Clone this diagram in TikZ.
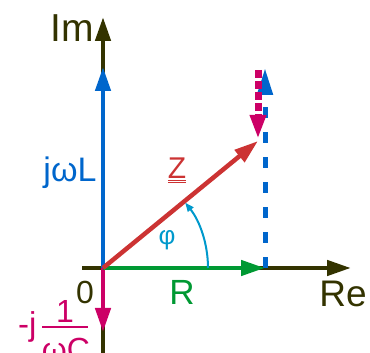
\documentclass[tikz,border=0pt]{standalone}
\usepackage{fontspec}
\setmainfont{Liberation Sans}
\usetikzlibrary{arrows.meta}
\definecolor{axiscol}{RGB}{51,51,0}
\definecolor{bluec}{RGB}{0,102,204}
\definecolor{redc}{RGB}{204,51,51}
\definecolor{magc}{RGB}{204,0,102}
\definecolor{greenc}{RGB}{0,153,51}
\definecolor{cyanc}{RGB}{0,153,204}
\begin{document}
\begin{tikzpicture}[x=1pt,y=1pt,
  bigtip/.style={-{Triangle[length=24pt,width=15pt]}},
  axisline/.style={draw=axiscol,line width=4.5pt,bigtip},
  vec/.style={line width=4.5pt,bigtip},
  lbl/.style={inner sep=0pt,anchor=center}]
\useasboundingbox (0,0) rectangle (370,353);
% points
\coordinate (O) at (103,85);
\coordinate (ybot) at (103,-5);
\coordinate (ytop) at (103,336);
\coordinate (xleft) at (82,85);
\coordinate (xright) at (351,85);
\coordinate (Ltip) at (103,286);
\coordinate (Ctip) at (103,21);
\coordinate (Rtip) at (265,85);
\coordinate (Ztip) at (258,212);
\coordinate (dLtop) at (265,285);
\coordinate (dCtop) at (258,283);
\coordinate (dCtip) at (258,214);
% axes
\draw[axiscol,line width=4.5pt] (ybot) -- (O);
\draw[axisline] (O) -- (ytop);
\draw[axisline] (xleft) -- (xright);
% dashed translated vectors
\draw[bluec,line width=5pt,dash pattern=on 11pt off 14pt,-{Triangle[length=27pt,width=15pt]}] (Rtip) -- (dLtop);
\draw[magc,line width=7pt,dash pattern=on 8pt off 3pt,-{Triangle[length=24pt,width=15pt]}] (dCtop) -- (dCtip);
% component vectors
\draw[vec,bluec] (O) -- (Ltip);
\draw[vec,magc] (O) -- (Ctip);
\draw[vec,greenc] (O) -- (Rtip);
\draw[vec,redc] (O) -- (Ztip);
% angle
\draw[cyanc,line width=2pt,-{Triangle[length=9pt,width=7pt]}] (O) ++(105,0) arc[start angle=0,end angle=38.5,radius=105];
% labels
\node[lbl,axiscol,font=\fontsize{39}{39}\selectfont] (im) at (72,325) {Im};
\node[lbl,axiscol,font=\fontsize{37}{37}\selectfont] (re) at (343,59) {Re};
\node[lbl,axiscol,font=\fontsize{32}{32}\selectfont] (zero) at (85,61) {0};
\node[lbl,greenc,font=\fontsize{35}{35}\selectfont] (rl) at (182,61) {R};
\node[lbl,bluec,font=\fontsize{34}{34}\selectfont] (jl) at (70,180) {jωL};
\node[lbl,redc,font=\fontsize{30}{30}\selectfont] (zl) at (177,183) {\underline{\underline{Z}}};
\node[lbl,cyanc,font=\fontsize{26}{26}\selectfont] (phi) at (167,113) {φ};
% -j 1/(omega C)
\node[inner sep=0pt,anchor=base west,magc,font=\fontsize{33}{33}\selectfont] (mj) at (18,17) {-j};
\node[inner sep=0pt,anchor=base,magc,font=\fontsize{32}{32}\selectfont] (one) at (65,30) {1};
\coordinate (barl) at (42,26);
\coordinate (barr) at (88,26);
\draw[magc,line width=2pt] (barl) -- (barr);
\node[inner sep=0pt,anchor=north,magc,font=\fontsize{32}{32}\selectfont] (wc) at (66,15) {ωC};
\end{tikzpicture}
\end{document}
